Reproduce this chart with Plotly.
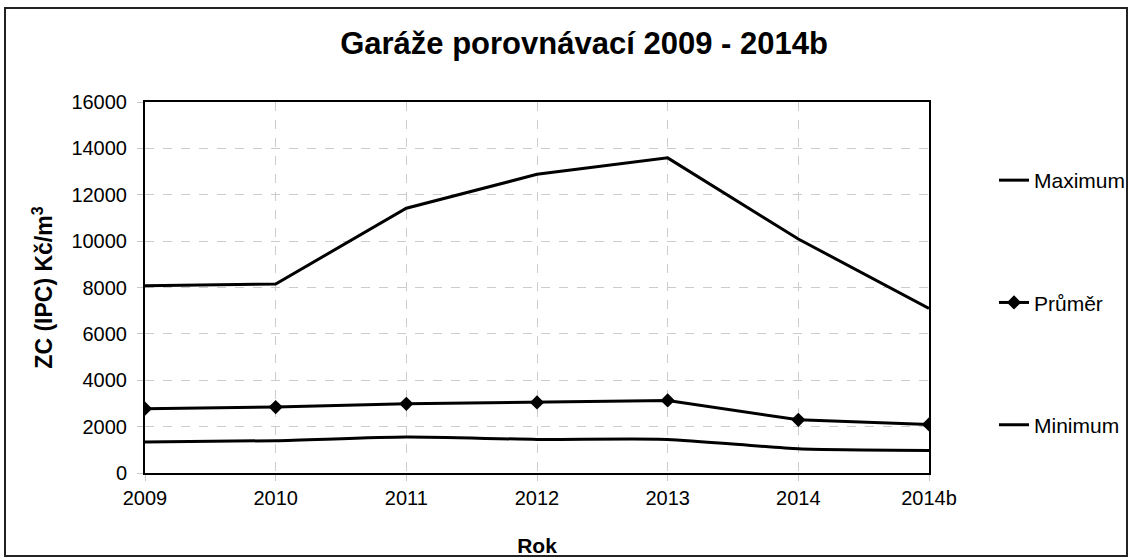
import plotly.graph_objects as go

years = ["2009", "2010", "2011", "2012", "2013", "2014", "2014b"]
maximum = [8080, 8150, 11420, 12880, 13590, 10090, 7100]
prumer = [2775, 2845, 2985, 3045, 3130, 2295, 2095]
minimum = [1335, 1395, 1550, 1450, 1450, 1045, 975]

W, H = 1131, 560
L, R, T, B = 145, 202, 102, 87
FONT = "Liberation Sans, Arial, sans-serif"

fig = go.Figure()
fig.add_trace(go.Scatter(x=years, y=maximum, name="Maximum", mode="lines",
                         line=dict(color="black", width=3), legendgroup="a"))
fig.add_trace(go.Scatter(x=years, y=prumer, name="Průměr", mode="lines+markers",
                         line=dict(color="black", width=3),
                         marker=dict(symbol="diamond", size=11, color="black"),
                         legendgroup="b"))
fig.add_trace(go.Scatter(x=years, y=minimum, name="Minimum", mode="lines",
                         line=dict(color="black", width=3, shape="spline", smoothing=0.6),
                         legendgroup="c"))

pw = W - L - R
ph = H - T - B
def px2paper(x, y):
    return (x - L) / pw, (H - B - y) / ph

x0, y0 = px2paper(5, 556)
x1, y1 = px2paper(1127, 8)

fig.update_layout(
    width=W, height=H,
    margin=dict(l=L, r=R, t=T, b=B, autoexpand=False),
    paper_bgcolor="white", plot_bgcolor="white",
    font=dict(family=FONT, color="black", size=20),
    title=dict(text="<b>Garáže porovnávací 2009 - 2014b</b>", xref="container", yref="container",
               x=584 / W, y=1 - 43 / H, xanchor="center", yanchor="middle",
               font=dict(size=31, family=FONT, color="black")),
    xaxis=dict(type="category", range=[0, 6], showline=True, linecolor="black", linewidth=2,
               mirror=True, showgrid=True, gridcolor="#cccccc", griddash="dash", gridwidth=1,
               ticks="outside", ticklen=6, tickcolor="#c8c8c8",
               tickfont=dict(size=20, family=FONT),
               title=dict(text="<b>Rok</b>", font=dict(size=21, family=FONT), standoff=30)),
    yaxis=dict(range=[0, 16000], dtick=2000, tickformat="d", showline=True, linecolor="black",
               linewidth=2, mirror=True, showgrid=True, gridcolor="#cccccc", griddash="dash",
               gridwidth=1, ticks="outside", ticklen=6, tickcolor="#c8c8c8", zeroline=False,
               ticklabelstandoff=6,
               tickfont=dict(size=20, family=FONT),
               title=dict(text="<b>ZC (IPC) Kč/m<sup>3</sup></b>", font=dict(size=23, family=FONT),
                          standoff=12)),
    legend=dict(x=(994 - L) / pw, y=px2paper(0, 160)[1], xanchor="left", yanchor="top",
                font=dict(size=21, family=FONT), tracegroupgap=92, bgcolor="rgba(0,0,0,0)"),
    shapes=[dict(type="rect", xref="paper", yref="paper", x0=x0, y0=y0, x1=x1, y1=y1,
                 line=dict(color="#222", width=2), layer="below")],
)

fig.write_html("out.html", config={"displayModeBar": False},
               post_script="document.body.style.margin='0';")
